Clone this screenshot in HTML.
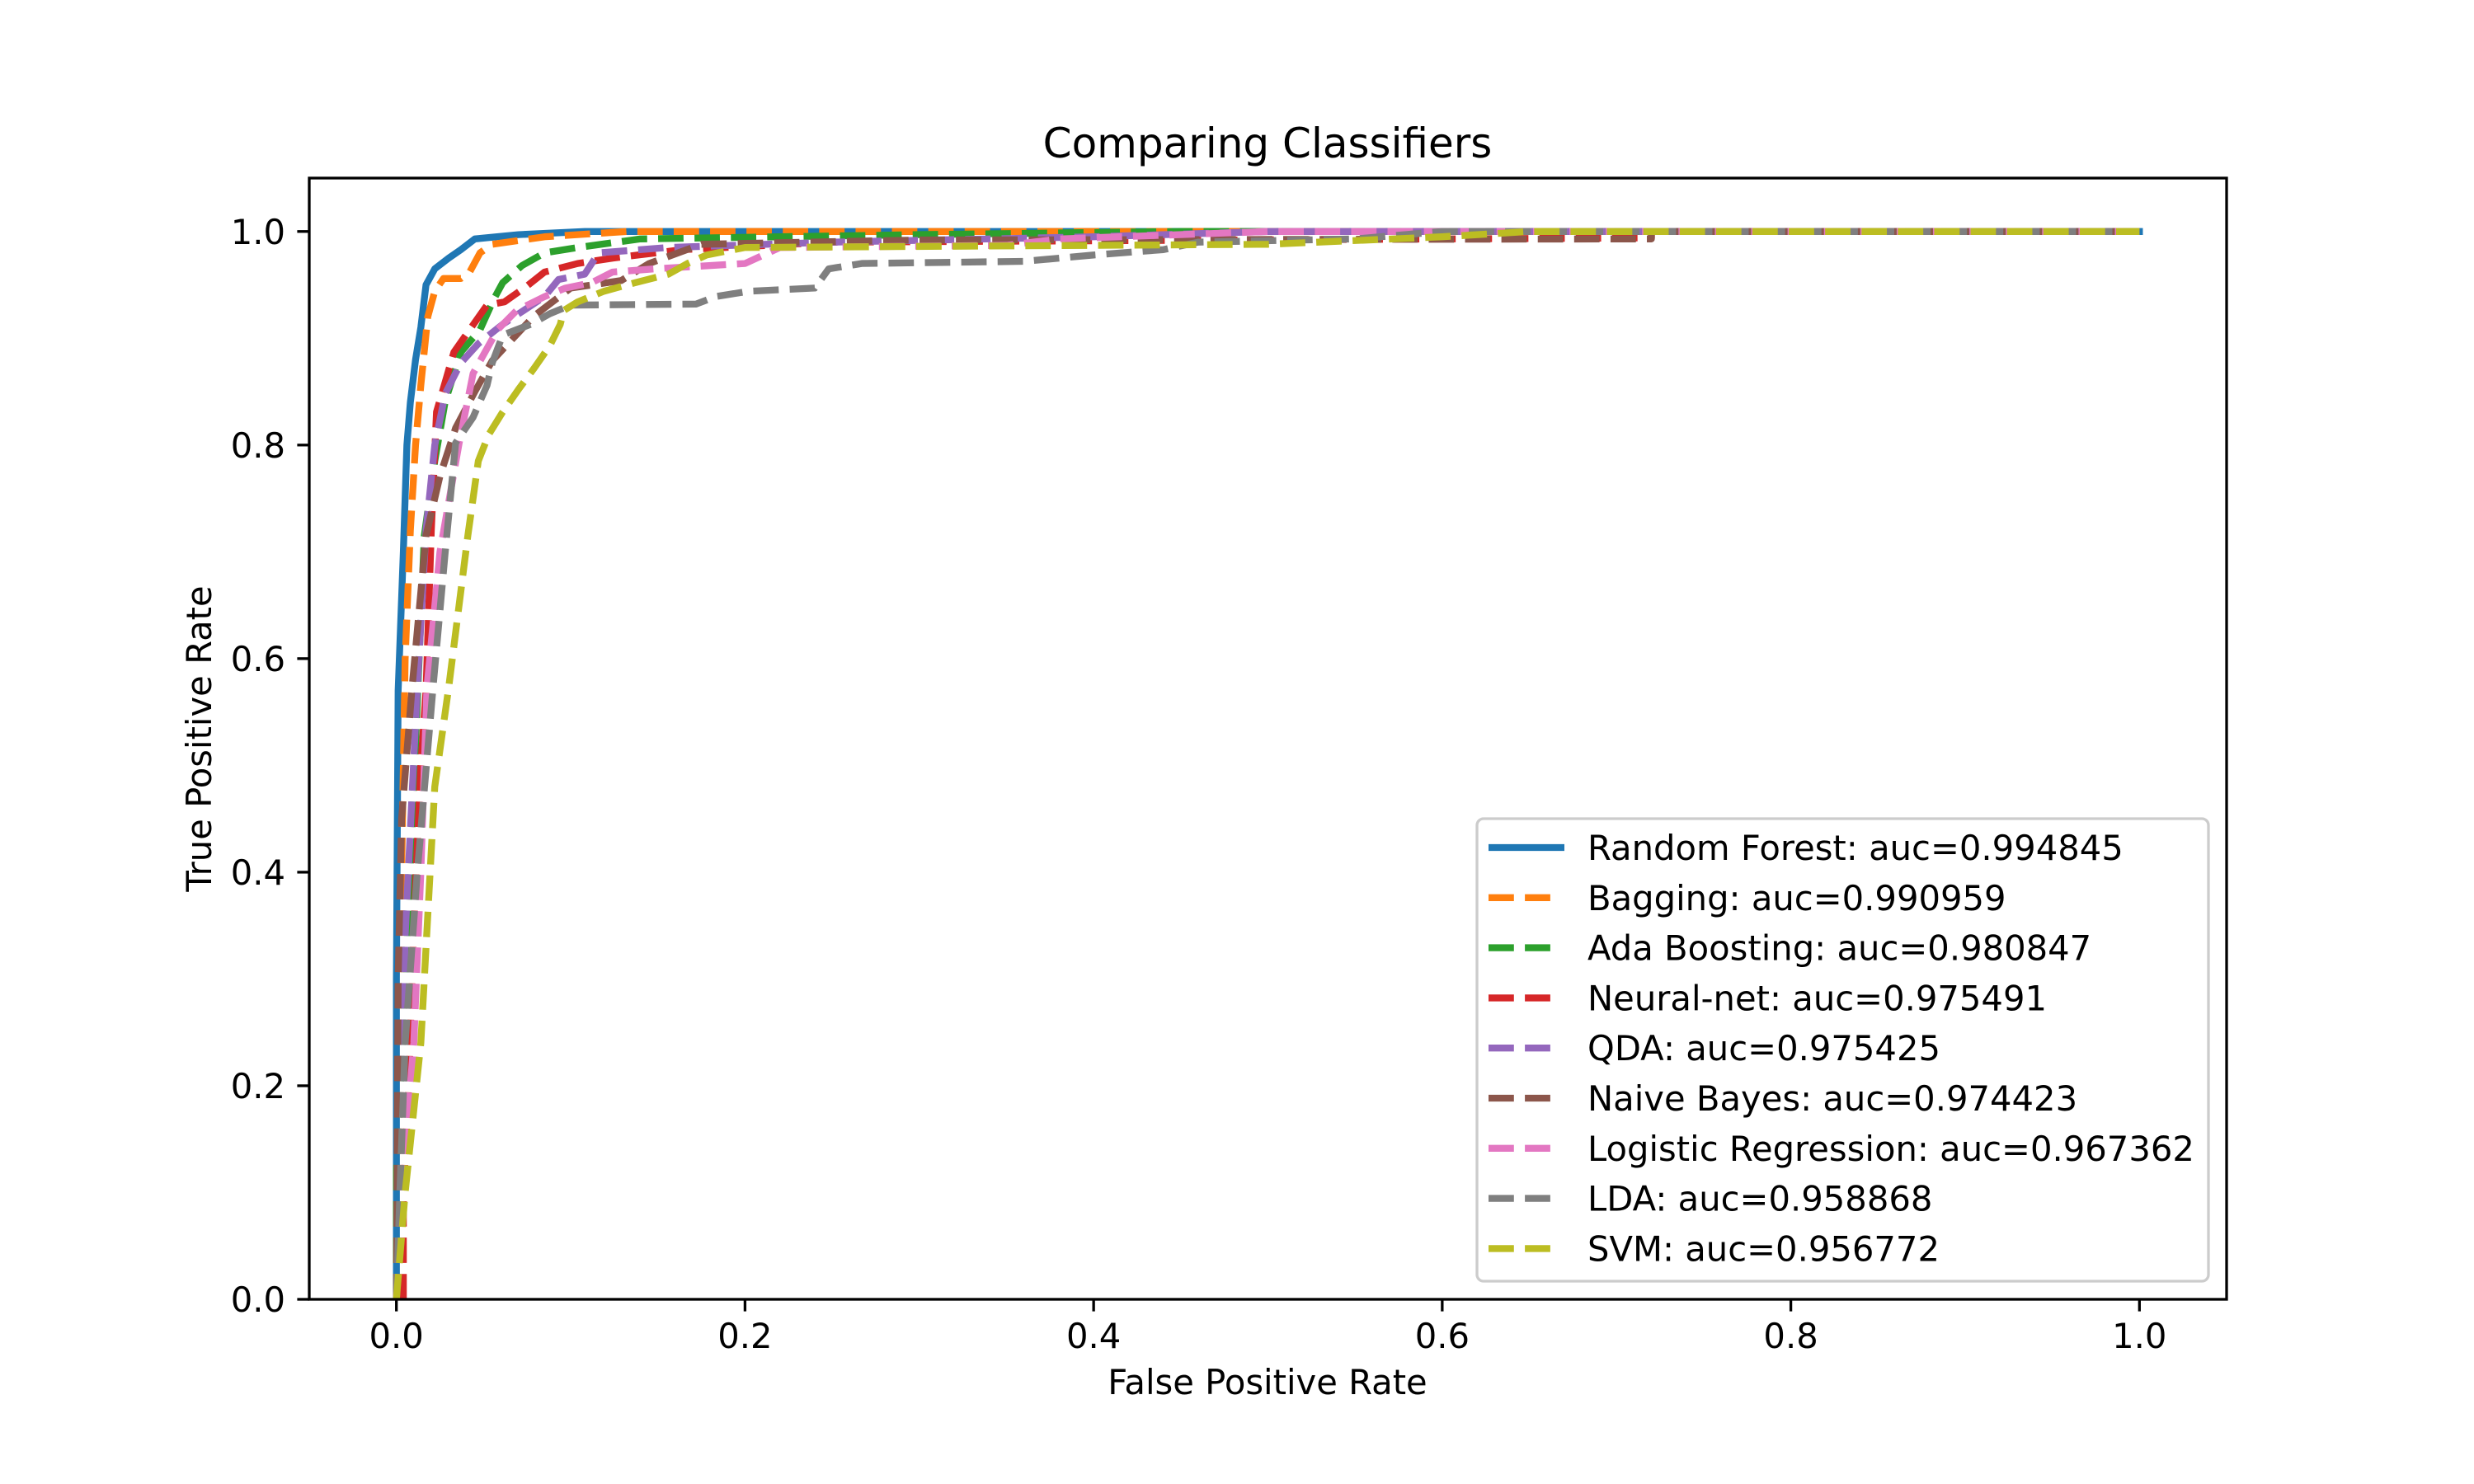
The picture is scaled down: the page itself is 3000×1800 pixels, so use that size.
<!DOCTYPE html>
<html><head><meta charset="utf-8"><style>
html,body{margin:0;padding:0;background:#fff;}
svg{display:block;font-family:"DejaVu Sans","Liberation Sans",sans-serif;}
</style></head><body>
<svg id="chart" width="3000" height="1800" viewBox="0 0 3000 1800" xmlns="http://www.w3.org/2000/svg">
<rect x="0" y="0" width="3000" height="1800" fill="#fff"/>
<text x="1537" y="191" font-size="50" text-anchor="middle">Comparing Classifiers</text>
<g id="plot"></g>
<g id="axes"></g>
<text x="1537" y="1691" font-size="41.7" text-anchor="middle">False Positive Rate</text>
<text x="0" y="0" font-size="41.7" text-anchor="middle" transform="translate(256,896) rotate(-90)">True Positive Rate</text>
<g id="legend"></g>
</svg>
<script>
const xTicks = [0.0, 0.2, 0.4, 0.6, 0.8, 1.0];
const yTicks = [0.0, 0.2, 0.4, 0.6, 0.8, 1.0];
const seriesNames = ["Random Forest: auc=0.994845","Bagging: auc=0.990959","Ada Boosting: auc=0.980847","Neural-net: auc=0.975491","QDA: auc=0.975425","Naive Bayes: auc=0.974423","Logistic Regression: auc=0.967362","LDA: auc=0.958868","SVM: auc=0.956772"];
const seriesColors = ["#1f77b4","#ff7f0e","#2ca02c","#d62728","#9467bd","#8c564b","#e377c2","#7f7f7f","#bcbd22"];
const rfData = [[0,0],[0,0.3],[0.001,0.57],[0.004,0.70],[0.006,0.80],[0.008,0.84],[0.011,0.88],[0.014,0.91],[0.017,0.95],[0.022,0.965],[0.03,0.975],[0.037,0.983],[0.045,0.993],[0.07,0.997],[0.108,1],[1,1]];
const bagData = [[0,0],[0.002,0.1],[0.003,0.4],[0.005,0.6],[0.008,0.72],[0.011,0.80],[0.014,0.856],[0.018,0.92],[0.022,0.944],[0.027,0.956],[0.037,0.956],[0.042,0.962],[0.048,0.98],[0.055,0.988],[0.085,0.995],[0.132,1],[1,1]];
const adaData = [[0,0],[0,0.12],[0.005,0.3],[0.01,0.48],[0.013,0.6],[0.016,0.715],[0.022,0.785],[0.028,0.841],[0.037,0.887],[0.048,0.908],[0.056,0.937],[0.061,0.952],[0.072,0.968],[0.085,0.98],[0.104,0.985],[0.14,0.993],[0.3,0.997],[0.45,1],[1,1]];
const nnData = [[0.004,0],[0.004,0.1],[0.007,0.2],[0.01,0.35],[0.014,0.5],[0.017,0.57],[0.02,0.72],[0.023,0.831],[0.033,0.887],[0.042,0.908],[0.052,0.931],[0.062,0.934],[0.075,0.949],[0.085,0.962],[0.104,0.97],[0.124,0.975],[0.164,0.983],[0.25,0.99],[0.72,0.994],[0.72,1],[1,1]];
const qdaData = [[0,0],[0.002,0.1],[0.005,0.34],[0.012,0.573],[0.017,0.72],[0.022,0.8],[0.028,0.848],[0.037,0.877],[0.047,0.895],[0.061,0.913],[0.085,0.939],[0.093,0.955],[0.108,0.96],[0.116,0.98],[0.156,0.985],[0.25,0.99],[0.4,0.995],[0.5,1],[1,1]];
const nbData = [[0,0],[0.001,0.3],[0.003,0.45],[0.009,0.573],[0.017,0.715],[0.025,0.771],[0.034,0.816],[0.045,0.85],[0.055,0.879],[0.079,0.921],[0.1,0.947],[0.129,0.954],[0.145,0.97],[0.175,0.988],[0.3,0.992],[0.72,0.993],[0.72,1],[1,1]];
const lrData = [[0,0],[0.003,0.1],[0.01,0.24],[0.014,0.4],[0.0175,0.573],[0.025,0.7],[0.036,0.802],[0.044,0.867],[0.058,0.908],[0.069,0.926],[0.085,0.939],[0.097,0.947],[0.112,0.952],[0.124,0.962],[0.148,0.965],[0.2,0.97],[0.22,0.985],[0.35,0.987],[0.38,0.993],[0.5,1],[1,1]];
const ldaData = [[0,0],[0.002,0.1],[0.005,0.24],[0.012,0.4],[0.021,0.573],[0.028,0.7],[0.034,0.802],[0.044,0.826],[0.052,0.856],[0.055,0.877],[0.061,0.903],[0.077,0.913],[0.088,0.923],[0.1,0.931],[0.172,0.932],[0.183,0.939],[0.202,0.944],[0.24,0.947],[0.248,0.965],[0.267,0.97],[0.36,0.972],[0.4,0.978],[0.44,0.983],[0.46,0.99],[0.55,0.993],[0.6,1],[1,1]];
const svmData = [[0,0],[0.001,0.02],[0.005,0.1],[0.014,0.24],[0.022,0.48],[0.03,0.573],[0.041,0.715],[0.047,0.785],[0.053,0.81],[0.061,0.831],[0.07,0.852],[0.079,0.872],[0.088,0.893],[0.094,0.913],[0.096,0.926],[0.104,0.934],[0.119,0.944],[0.137,0.952],[0.156,0.96],[0.167,0.97],[0.178,0.978],[0.2,0.985],[0.5,0.988],[0.6,0.995],[0.65,1],[1,1]];
const allSeries = [rfData,bagData,adaData,nnData,qdaData,nbData,lrData,ldaData,svmData];
const seriesKeys = ["random-forest","bagging","ada-boosting","neural-net","qda","naive-bayes","logistic-regression","lda","svm"];

const NS="http://www.w3.org/2000/svg";
const L=375,R=2700,T=216,B=1576;
const xMin=-0.05,xMax=1.05,yMin=0,yMax=1.05;
function sx(v){return L+(v-xMin)/(xMax-xMin)*(R-L);}
function sy(v){return B-(v-yMin)/(yMax-yMin)*(B-T);}
function mk(tag,attrs,parent){const e=document.createElementNS(NS,tag);for(const k in attrs)e.setAttribute(k,attrs[k]);parent.appendChild(e);return e;}
const plot=document.getElementById('plot'),axes=document.getElementById('axes'),legend=document.getElementById('legend');
const DASH="30.8,13.3";
const clip=mk('clipPath',{id:'clipA'},plot);
mk('rect',{x:L,y:T,width:R-L,height:B-T},clip);
allSeries.forEach((s,i)=>{
  const d=s.map((p,j)=>(j?'L':'M')+sx(p[0]).toFixed(1)+','+sy(p[1]).toFixed(1)).join(' ');
  const p=mk('path',{d:d,fill:'none',stroke:seriesColors[i],'stroke-width':8.33,'stroke-linejoin':'round','clip-path':'url(#clipA)'},plot);
  if(i>0)p.setAttribute('stroke-dasharray',DASH); else p.setAttribute('stroke-linecap','square');
  
  
});
const frame=mk('rect',{x:L,y:T,width:R-L,height:B-T,fill:'none',stroke:'#000','stroke-width':3.3},axes);


xTicks.forEach(v=>{
  const x=sx(v);
  const t=mk('line',{x1:x,x2:x,y1:B,y2:B+14.6,stroke:'#000','stroke-width':3.3},axes);
  
  
  const lb=mk('text',{x:x,y:B+59,'font-size':41.7,'text-anchor':'middle'},axes);
  lb.textContent=v.toFixed(1);
  
  
});
yTicks.forEach(v=>{
  const y=sy(v);
  const t=mk('line',{x1:L-14.6,x2:L,y1:y,y2:y,stroke:'#000','stroke-width':3.3},axes);
  
  
  const lb=mk('text',{x:L-29,y:y+15,'font-size':41.7,'text-anchor':'end'},axes);
  lb.textContent=v.toFixed(1);
  
  
});
const box=mk('rect',{x:1791,y:993,width:887,height:561,rx:8,ry:8,fill:'#fff','fill-opacity':0.8,stroke:'#cccccc','stroke-width':3.3},legend);


seriesNames.forEach((n,i)=>{
  const y=1028+i*60.8;
  const g=mk('g',{},legend);
  
  
  const ln=mk('line',{x1:1805,x2:1889,y1:y,y2:y,stroke:seriesColors[i],'stroke-width':8.33},g);
  if(i>0)ln.setAttribute('stroke-dasharray',DASH); else ln.setAttribute('x2','1897');
  
  
  const tx=mk('text',{x:1925,y:y+15,'font-size':41.7},g);
  tx.textContent=n;
  
  
});
</script>
</body></html>
